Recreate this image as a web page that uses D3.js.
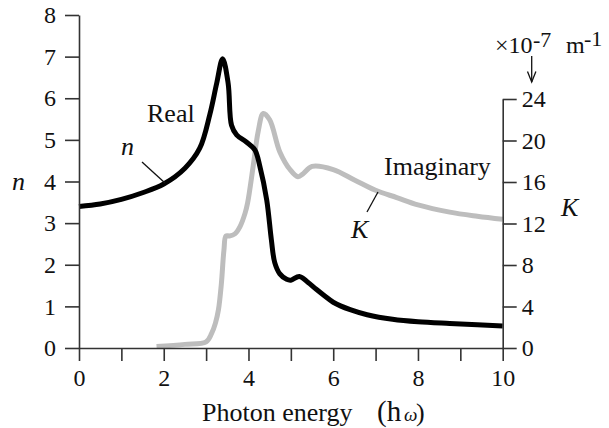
<!DOCTYPE html>
<html><head><meta charset="utf-8">
<script src="https://cdn.jsdelivr.net/npm/d3@7"></script>
<style>body{margin:0;background:#fff;}</style></head>
<body><svg id="c" width="609" height="428"></svg>
<script>
// Real part n (left axis)
const nEnergy = [0, 0.5, 1, 1.5, 2, 2.5, 2.85, 3.09, 3.25, 3.39, 3.52, 3.6, 3.72, 3.95, 4.15, 4.27, 4.43, 4.54, 4.62, 4.74, 4.9, 5.0, 5.2, 5.4, 5.6, 5.8, 6.0, 6.4, 6.8, 7.4, 8.0, 8.75, 9.4, 10];
const nValues = [3.40, 3.46, 3.57, 3.73, 3.94, 4.32, 4.80, 5.62, 6.36, 6.95, 6.36, 5.35, 5.12, 4.95, 4.76, 4.36, 3.56, 2.60, 2.05, 1.78, 1.65, 1.63, 1.72, 1.58, 1.41, 1.25, 1.10, 0.92, 0.80, 0.69, 0.63, 0.59, 0.56, 0.53];
// Imaginary part K (right axis, x10^-7 m^-1)
const kEnergy = [1.83, 2.5, 3.0, 3.13, 3.22, 3.29, 3.36, 3.42, 3.47, 3.55, 3.68, 3.8, 3.92, 3.98, 4.11, 4.23, 4.35, 4.5, 4.74, 4.98, 5.17, 5.29, 5.5, 6.0, 6.5, 7.0, 7.5, 8.0, 8.75, 9.4, 10];
const kValues = [0.15, 0.35, 0.6, 1.4, 2.4, 3.66, 6.2, 9.4, 10.8, 10.8, 11.0, 11.7, 13.0, 14.0, 17.5, 20.9, 22.6, 22.0, 18.9, 17.2, 16.5, 16.8, 17.5, 17.2, 16.2, 15.2, 14.5, 13.8, 13.1, 12.7, 12.4];
const xTicks = [0,1,2,3,4,5,6,7,8,9,10];
const leftTicks = [0,1,2,3,4,5,6,7,8];
const rightTicks = [0,4,8,12,16,20,24];

const FONT = "'Liberation Serif', 'Times New Roman', serif";
const svg = d3.select("#c");
const x = d3.scaleLinear().domain([0,10]).range([79, 502.7]);
const yL = d3.scaleLinear().domain([0,8]).range([348, 15]);
const yR = d3.scaleLinear().domain([0,24]).range([348, 99]);
const axisColor = "#333";
const fs = 24, ls = 26;

function style(g){
  g.select(".domain").attr("stroke", axisColor).attr("stroke-width", 1.6);
  g.selectAll(".tick line").attr("stroke", axisColor).attr("stroke-width", 1.6);
  g.selectAll(".tick text").attr("fill", "#111")
    .style("font-size", fs + "px").style("font-family", FONT);
}

// curves
const lineK = d3.line().x((d,i)=>x(kEnergy[i])).y(d=>yR(d)).curve(d3.curveCatmullRom.alpha(0.5));
const lineN = d3.line().x((d,i)=>x(nEnergy[i])).y(d=>yL(d)).curve(d3.curveCatmullRom.alpha(0.5));
svg.append("path").attr("d", lineK(kValues)).attr("fill","none").attr("stroke","#bdbdbd").attr("stroke-width",5).attr("stroke-linejoin","round");
svg.append("path").attr("d", lineN(nValues)).attr("fill","none").attr("stroke","#000").attr("stroke-width",5).attr("stroke-linejoin","round");

// axes
svg.append("g").attr("transform","translate(0,348)")
  .call(d3.axisBottom(x).tickValues(xTicks).tickSize(13).tickSizeOuter(0).tickPadding(8)
    .tickFormat(d => d % 2 === 0 ? d : ""))
  .call(style);
svg.append("g").attr("transform","translate(79,0)")
  .call(d3.axisLeft(yL).tickValues(leftTicks).tickSize(14).tickSizeOuter(0).tickPadding(9))
  .call(style);
svg.append("g").attr("transform","translate(502.7,0)")
  .call(d3.axisRight(yR).tickValues(rightTicks).tickSize(14).tickSizeOuter(0).tickPadding(5))
  .call(style);

// labels
const T = (t, xx, yy, opts={}) => svg.append("text").attr("x",xx).attr("y",yy)
  .style("font-family", FONT).style("font-size", (opts.size||ls) + "px")
  .style("font-style", opts.italic ? "italic" : "normal")
  .attr("text-anchor", opts.anchor||"start").attr("fill","#111").text(t);

const title = svg.append("text").attr("x",202).attr("y",421)
  .style("font-family", FONT).style("font-size","26px").attr("fill","#111");
title.append("tspan").text("Photon energy");
title.append("tspan").attr("x",377).style("font-size","29px").text("(h");
title.append("tspan").attr("x",404).style("font-style","italic").style("font-size","19px").text("ω");
title.append("tspan").attr("x",416).text(")");

T("n", 12, 190, {italic:true});
T("K", 561, 216, {italic:true});
T("Real", 147, 122);
T("n", 121, 155, {italic:true});
T("Imaginary", 384, 175);
T("K", 351, 238, {italic:true});
svg.append("line").attr("x1",142).attr("y1",162).attr("x2",165).attr("y2",183).attr("stroke","#111").attr("stroke-width",1.3);
svg.append("line").attr("x1",367).attr("y1",212).attr("x2",378).attr("y2",192).attr("stroke","#111").attr("stroke-width",1.3);

// unit
T("×10", 495, 53, {size:24});
T("-7", 533, 46.5, {size:22});
T("m", 566, 53, {size:24});
T("-1", 584, 46, {size:22});
svg.append("line").attr("x1",531.7).attr("y1",56).attr("x2",531.7).attr("y2",82).attr("stroke","#111").attr("stroke-width",1.3);
svg.append("path").attr("d","M527.5,71.5L531.7,82L535.9,71.5").attr("fill","none").attr("stroke","#111").attr("stroke-width",1.3);
</script></body></html>
